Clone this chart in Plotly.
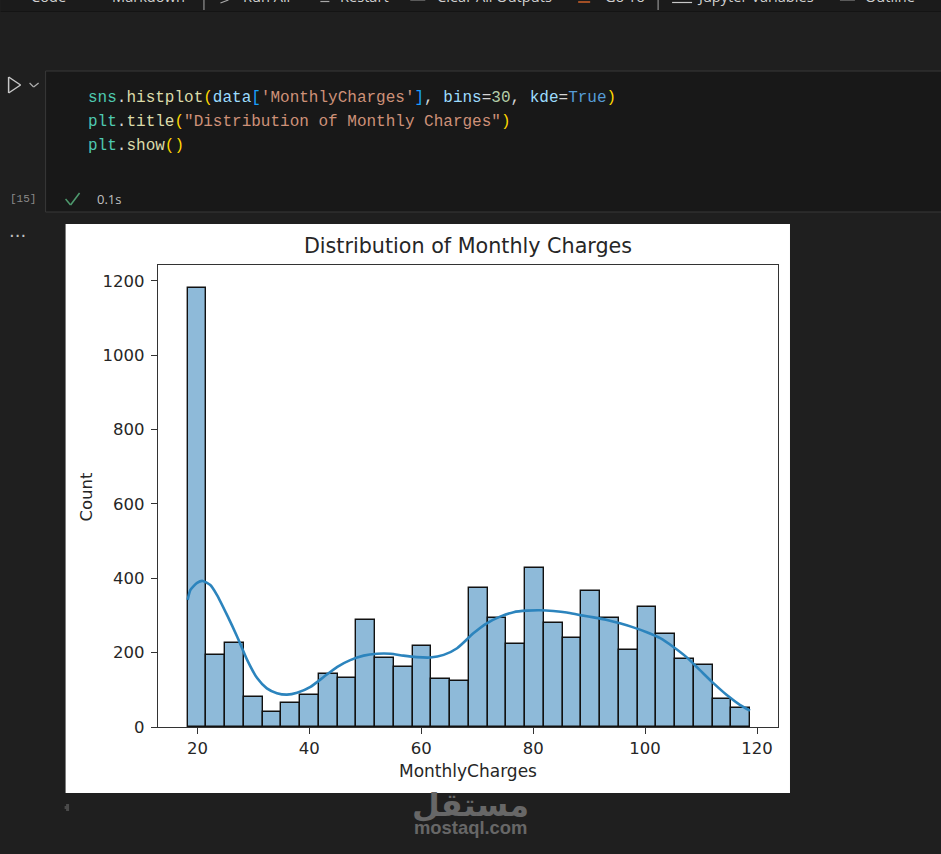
# Packages
import plotly.graph_objects as go

# Histogram of MonthlyCharges
bin_start = 18.25
bin_width = 3.35
counts = [1181, 193, 226, 82, 41, 64, 86, 142, 132, 287,
          185, 162, 217, 130, 125, 375, 294, 223, 428, 280,
          240, 365, 294, 207, 324, 250, 183, 166, 75, 52]

# KDE curve
kde_x = [18.25, 18.75, 19.94, 20.95, 22.3, 23.5, 25.3, 27.1, 28.9, 30.7, 32.4, 34.2, 36.0, 37.8,
         40.2, 42.6, 45.0, 47.3, 49.7, 52.1, 54.5, 56.8, 59.2, 61.6, 64.0, 66.4, 69.3, 71.7,
         74.1, 76.5, 78.9, 81.25, 83.6, 86.0, 88.4, 90.8, 93.2, 95.5, 97.9, 100.3, 102.7, 105.0,
         107.4, 109.8, 112.2, 114.6, 117.0, 118.75]
kde_y = [342, 369, 388, 393, 382, 355, 301, 243, 180, 131, 104, 91, 87, 92,
         108, 135, 162, 180, 192, 197, 197, 192, 188, 187, 194, 212, 252, 279,
         297, 309, 313, 314, 312, 308, 301, 295, 288, 279, 268, 255, 239, 216,
         188, 153, 118, 86, 59, 44]

x_ticks = [20, 40, 60, 80, 100, 120]
y_ticks = [0, 200, 400, 600, 800, 1000, 1200]

# The notebook cell around the chart
code_lines = [
    [("sns", "#4ec9b0"), (".", "#d4d4d4"), ("histplot", "#dcdcaa"), ("(", "#ffd700"), ("data", "#9cdcfe"),
     ("[", "#179fff"), ("'MonthlyCharges'", "#ce9178"), ("]", "#179fff"), (", ", "#d4d4d4"), ("bins", "#9cdcfe"),
     ("=", "#d4d4d4"), ("30", "#b5cea8"), (", ", "#d4d4d4"), ("kde", "#9cdcfe"), ("=", "#d4d4d4"),
     ("True", "#569cd6"), (")", "#ffd700")],
    [("plt", "#4ec9b0"), (".", "#d4d4d4"), ("title", "#dcdcaa"), ("(", "#ffd700"),
     ('"Distribution of Monthly Charges"', "#ce9178"), (")", "#ffd700")],
    [("plt", "#4ec9b0"), (".", "#d4d4d4"), ("show", "#dcdcaa"), ("(", "#ffd700"), (")", "#ffd700")],
]
code_y = [98.5, 122.5, 146.5]
toolbar_labels = ["+", "Code", "+", "Markdown", "Run All", "Restart", "Clear All Outputs", "Go To",
                  "Jupyter Variables", "Outline"]
toolbar_x = [6, 30, 90, 111, 243, 340, 437, 605, 697, 865]

W, H = 941, 854
L, R, T, B = 157.5, 778, 265, 727


def px(x):
    return (x - L) / (R - L)


def py(y):
    return (B - y) / (B - T)


def rect(x0, y0, x1, y1, fill, line=None):
    return dict(type="rect", xref="paper", yref="paper", layer="below", x0=px(x0), x1=px(x1), y0=py(y0), y1=py(y1),
                fillcolor=fill, line=dict(color=line or fill, width=1 if line else 0))


def seg(x0, y0, x1, y1, color, width=1.5):
    return dict(type="line", xref="paper", yref="paper", layer="below", x0=px(x0), x1=px(x1), y0=py(y0), y1=py(y1),
                line=dict(color=color, width=width))


def label(x, y, text, size, color, family="Open Sans", anchor="left"):
    return dict(xref="paper", yref="paper", x=px(x), y=py(y), text=text, showarrow=False, xanchor=anchor,
                yanchor="middle", font=dict(size=size, color=color, family=family), borderpad=0, borderwidth=0)


centers = [bin_start + bin_width * (i + 0.5) for i in range(len(counts))]

fig = go.Figure()
fig.add_trace(go.Bar(x=centers, y=counts, width=bin_width, marker=dict(color="#8ebad9", line=dict(color="#111111", width=1.4))))
fig.add_trace(go.Scatter(x=kde_x, y=kde_y, mode="lines", line=dict(color="#2c84bd", width=2.6, shape="spline", smoothing=0.6)))

shapes = [
    rect(0, 0, W, 11, "#1b1b1b"),
    seg(0, 11.5, W, 11.5, "#141414", 1),
    rect(45, 71, W + 5, 212, "#181818", "#383838"),
    rect(65, 224, 790, 793, "#ffffff"),
    # run button, chevron, check mark
    seg(8, 77, 8, 93, "#c8c8c8"), seg(8, 77, 20, 85, "#c8c8c8"), seg(8, 93, 20, 85, "#c8c8c8"),
    seg(29, 83, 33, 87, "#b0b0b0", 1.2), seg(33, 87, 38, 83, "#b0b0b0", 1.2),
    seg(65, 199, 70, 205, "#4e9a6e"), seg(70, 205, 79, 193, "#4e9a6e"),
    # scroll arrow
    seg(67, 804, 67, 811, "#4a4a4a", 3),
    seg(64, 807.5, 67, 807.5, "#4a4a4a", 3),
    # dividers and icon bottoms in the toolbar
    seg(203.5, 0, 203.5, 10, "#aaaaaa", 1), seg(658, 0, 658, 10, "#aaaaaa", 1),
    seg(220, 3, 228, 0, "#a8a8a8", 1.2), seg(320, 1.5, 329, 1.5, "#a8a8a8", 1.2), seg(410, 0.5, 425, 0.5, "#5a5a5a", 1),
    seg(578, 2, 590, 2, "#d0622a", 1.5), seg(672, 2.5, 692, 2.5, "#c8c8c8", 1.2), seg(840, 0.5, 855, 0.5, "#5a5a5a", 1),
]

annotations = [label(x, -4, t, 14.6, "#d0d0d0") for x, t in zip(toolbar_x, toolbar_labels)]
for line, y in zip(code_lines, code_y):
    text = "".join(f'<span style="color:{c}">{t}</span>' for t, c in line)
    annotations.append(label(87, y, text, 16, "#d4d4d4", "Liberation Mono"))
annotations += [
    label(9, 199, "[15]", 11, "#8a8a8a", "Liberation Mono"),
    label(96, 199, "0.1s", 13, "#c0c0c0", "Open Sans"),
    label(8, 231, "...", 18, "#c0c0c0", "DejaVu Sans"),
    label(85, 497, "Count", 16.5, "#262626", "DejaVu Sans", "center"),
    label(470, 803, "<b>مستقل</b>", 32, "#676767", "Noto Sans, DejaVu Sans", "center"),
    label(470, 827, "<b>mostaql.com</b>", 18.4, "#676767", "Liberation Sans", "center"),
]
annotations[-3]["textangle"] = -90

fig.update_layout(
    width=W, height=H, margin=dict(l=L, r=W - R, t=T, b=H - B, pad=0),
    paper_bgcolor="#1f1f1f", plot_bgcolor="#ffffff", showlegend=False, bargap=0, hovermode=False,
    font=dict(family="DejaVu Sans", color="#262626", size=16.5),
    title=dict(text="Distribution of Monthly Charges", x=0.5, xref="paper", xanchor="center", y=1 - 246 / H,
               yref="container", yanchor="middle", font=dict(size=20.7, color="#262626", family="DejaVu Sans")),
    shapes=shapes, annotations=annotations,
)
fig.update_xaxes(range=[12.95, 123.75], tickvals=x_ticks, showgrid=False, zeroline=False, ticks="outside", ticklen=6, tickwidth=1.3,
                 tickcolor="#333333", showline=True, linecolor="#333333", linewidth=1.3, mirror=True,
                 title=dict(text="MonthlyCharges", standoff=8, font=dict(size=17, color="#262626")))
fig.update_yaxes(range=[0, 1243], tickvals=y_ticks, showgrid=False, zeroline=False, ticks="outside", ticklen=6, tickwidth=1.3,
                 tickcolor="#333333", showline=True, linecolor="#333333", linewidth=1.3, mirror=True, ticklabelstandoff=3)

fig.write_html("out.html", config={"displayModeBar": False},
               post_script="document.body.style.margin='0';document.documentElement.style.overflow='hidden';document.body.style.background='#1f1f1f';")
